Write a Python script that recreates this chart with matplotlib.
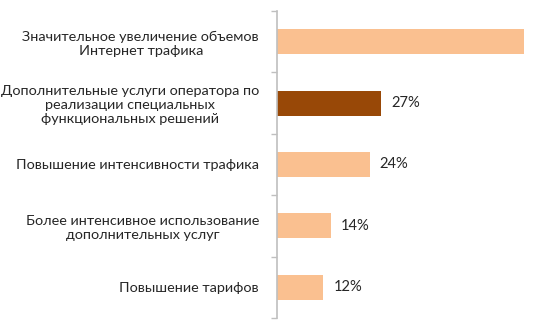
import matplotlib.pyplot as plt
from matplotlib.ticker import FixedLocator

categories = [
    "Значительное увеличение объемов\nИнтернет трафика",
    "Дополнительные услуги оператора по\nреализации специальных\nфункциональных решений",
    "Повышение интенсивности трафика",
    "Более интенсивное использование\nдополнительных услуг",
    "Повышение тарифов",
]
values = [64, 27, 24, 14, 12]
labels = ["", "27%", "24%", "14%", "12%"]
colors = ["#FAC090", "#984807", "#FAC090", "#FAC090", "#FAC090"]

plt.rcParams["font.family"] = ["Lato", "DejaVu Sans"]

fig = plt.figure(figsize=(5.38, 3.28), dpi=100)
ax = fig.add_axes([0.515, 0.0305, 0.485, 0.936])

pos = list(range(len(categories)))
bars = ax.barh(pos, values, height=0.41, color=colors)

for b, lab in zip(bars, labels):
    if lab:
        ax.text(b.get_width() + 2.6, b.get_y() + b.get_height() / 2, lab,
                va="center", ha="left", fontsize=10.6, color="#262626")

ax.set_xlim(0, 67.6)
ax.set_ylim(4.5, -0.5)

ax.set_yticks(pos)
ax.set_yticklabels(categories, fontsize=10.4, color="#262626", linespacing=1.2)
for t in ax.get_yticklabels():
    t.set_multialignment("center")
ax.tick_params(axis="y", which="major", length=0, pad=13)
ax.yaxis.set_minor_locator(FixedLocator([p - 0.5 for p in pos] + [4.5]))
ax.tick_params(axis="y", which="minor", length=4, color="#BFBFBF", width=1)
ax.set_xticks([])

for s in ["top", "right", "bottom"]:
    ax.spines[s].set_visible(False)
ax.spines["left"].set_color("#BFBFBF")
ax.spines["left"].set_linewidth(1.2)

fig.savefig("out.png", dpi=100)
